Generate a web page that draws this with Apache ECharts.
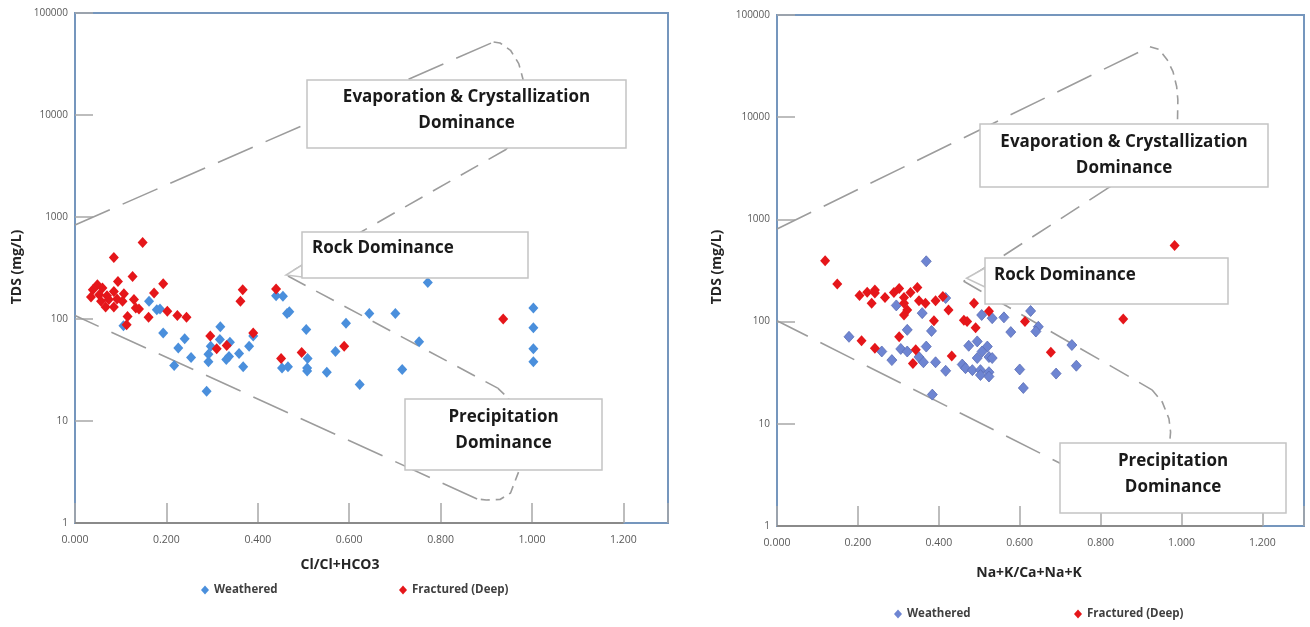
<!DOCTYPE html>
<html><head><meta charset="utf-8">
<script src="https://cdn.jsdelivr.net/npm/echarts@6/dist/echarts.min.js"></script>
<style>html,body{margin:0;padding:0;background:#fff}#c{width:1310px;height:627px}</style>
</head><body><div id="c"></div>
<script>
// ---------- data ----------
const xTickLabels = [0, 0.2, 0.4, 0.6, 0.8, 1.0, 1.2];
const yTickLabels = [1, 10, 100, 1000, 10000, 100000];
const seriesNames = ['Weathered', 'Fractured (Deep)'];

// Left chart: Cl/(Cl+HCO3) vs TDS
const leftWeathered = [
  [0.162,149],[0.179,123],[0.186,125],[0.106,86],[0.193,73],[0.240,64],[0.226,52],[0.254,42],
  [0.217,35],[0.288,19.6],[0.318,84],[0.317,63],[0.297,54],[0.292,45],[0.292,38],[0.339,59],
  [0.337,43],[0.331,40],[0.359,46],[0.368,34],[0.381,54],[0.390,68],[0.440,169],[0.455,167],
  [0.464,113],[0.469,118],[0.453,33],[0.466,34],[0.772,228],[0.644,113],[0.701,113],[0.593,91],
  [0.506,79],[0.753,60],[0.570,48],[0.509,41],[0.508,33],[0.508,31],[0.551,30],[0.716,32],
  [0.623,22.8],[1.003,128],[1.003,82],[1.003,51],[1.003,38]
];
const leftFractured = [
  [0.148,562],[0.085,401],[0.126,261],[0.094,233],[0.193,221],[0.173,180],[0.049,217],[0.039,194],
  [0.060,201],[0.035,164],[0.053,173],[0.070,169],[0.085,186],[0.107,177],[0.057,149],[0.074,155],
  [0.092,157],[0.104,149],[0.067,131],[0.085,131],[0.129,155],[0.133,128],[0.140,125],[0.115,106],
  [0.113,88],[0.161,104],[0.202,119],[0.224,108],[0.244,104],[0.296,68],[0.310,51],[0.332,55],
  [0.367,194],[0.362,149],[0.390,73],[0.440,197],[0.451,41],[0.937,100],[0.496,47],[0.589,54]
];
const leftOuterUpper = [[0,836],[0.916,52000]];
const leftTopCurve = [[0.916,52000],[0.93,50800],[0.953,43100],[0.971,31900],[0.98,22700],[0.985,15000],[0.982,10000],[0.97,7000],[0.955,5300],[0.943,4590]];
const leftInner = [[0.943,4590],[0.461,271],[0.925,21]];
const leftBottomCurve = [[0.925,21],[0.948,16.8],[0.965,10],[0.972,5],[0.971,3.2],[0.953,1.97],[0.93,1.7],[0.9,1.68],[0.88,1.72]];
const leftOuterLower = [[0.88,1.72],[0,108]];

// Right chart: (Na+K)/(Ca+Na+K) vs TDS
const rightWeathered = [
  [0.369,389],[0.295,144],[0.359,121],[0.417,170],[0.322,83],[0.382,81],[0.178,71],[0.259,51],
  [0.306,54],[0.322,51],[0.369,57],[0.284,42],[0.351,45],[0.362,40],[0.392,40],[0.417,33],
  [0.384,19.3],[0.474,58],[0.495,64],[0.506,116],[0.532,108],[0.561,110],[0.520,57],[0.507,51],
  [0.495,44],[0.524,45],[0.532,44],[0.458,38],[0.466,35],[0.483,33.5],[0.503,33.5],[0.503,30],
  [0.524,32],[0.524,29],[0.627,127],[0.646,89],[0.640,80],[0.578,79],[0.729,59],[0.740,37],
  [0.600,34],[0.690,31],[0.609,22.4]
];
const rightFractured = [
  [0.119,395],[0.149,233],[0.204,180],[0.234,151],[0.223,194],[0.242,204],[0.242,190],[0.267,172],
  [0.289,193],[0.302,211],[0.314,172],[0.314,151],[0.322,130],[0.314,116],[0.330,193],[0.347,216],
  [0.351,160],[0.367,151],[0.392,160],[0.410,176],[0.424,130],[0.388,102],[0.462,103],[0.470,100],
  [0.491,87],[0.487,151],[0.524,126],[0.302,71],[0.209,65],[0.242,55],[0.343,53],[0.336,39],
  [0.432,46],[0.983,555],[0.856,106],[0.613,100],[0.677,50]
];
const rightOuterUpper = [[0,805],[0.922,49000]];
const rightTopCurve = [[0.922,49000],[0.945,46000],[0.965,36300],[0.979,27900],[0.988,20000],[0.991,14800],[0.99,8700],[0.985,7000],[0.96,4800],[0.9,3280],[0.818,2020]];
const rightInner = [[0.818,2020],[0.4617,248],[0.927,21.5]];
const rightBottomCurve = [[0.927,21.5],[0.9526,16.3],[0.969,11.2],[0.973,8.3],[0.97,6],[0.96,3],[0.94,2.0],[0.91,1.75],[0.88,1.8]];
const rightOuterLower = [[0.88,1.8],[0,102]];

// ---------- styles ----------
const FONT = '"Open Sans", "Noto Sans", sans-serif';
const RED = '#e5161a';
const BLUE_L = '#4a8fdc';
const BLUE_R = '#6e85d2';
const DASH_COLOR = '#9c9c9c';
const BORDER = '#7596bd';

function xAxisCfg(gi, max) {
  return {
    type: 'value', gridIndex: gi, min: 0, max: max, interval: 0.2,
    axisLine: { show: false },
    axisTick: { show: true, inside: true, length: 20, lineStyle: { color: '#a8a8a8', width: 1.5 } },
    axisLabel: { margin: 12, fontFamily: FONT, fontSize: 10.5, color: '#595959',
      formatter: v => (v > xTickLabels[xTickLabels.length - 1] + 1e-6) ? '' : v.toFixed(3) },
    splitLine: { show: false }
  };
}
function yAxisCfg(gi) {
  return {
    type: 'log', logBase: 10, gridIndex: gi,
    min: yTickLabels[0], max: yTickLabels[yTickLabels.length - 1],
    axisLine: { show: false },
    axisTick: { show: true, inside: true, length: 18, lineStyle: { color: '#a8a8a8', width: 1.5 } },
    axisLabel: { margin: 7, fontFamily: FONT, fontSize: 10, color: '#595959', formatter: v => String(Math.round(v)) },
    splitLine: { show: false }, minorTick: { show: false }
  };
}
function dashSeries(data, gi, dash) {
  return {
    type: 'line', xAxisIndex: gi, yAxisIndex: gi, data: data, showSymbol: false, symbol: 'none',
    silent: true, z: 1, animation: false,
    lineStyle: { color: DASH_COLOR, width: 1.6, type: dash }
  };
}
function scatter(name, data, gi, color, border) {
  return {
    name: name, type: 'scatter', xAxisIndex: gi, yAxisIndex: gi, data: data,
    symbol: 'diamond', symbolSize: [10, 11], z: 3, animation: false,
    itemStyle: { color: color, borderColor: border, borderWidth: border ? 0.8 : 0, opacity: 1 }
  };
}
function legendItem(name, color, left, top) {
  return {
    data: [{ name: name, itemStyle: { color: color } }], left: left, top: top,
    icon: 'diamond', itemWidth: 8, itemHeight: 9, padding: 0, selectedMode: false,
    textStyle: { fontFamily: FONT, fontSize: 11.5, fontWeight: 'bold', color: '#404040', lineHeight: 14 }
  };
}
function box(x, y, w, h) {
  return { type: 'rect', z: 100, shape: { x: x, y: y, width: w, height: h },
    style: { fill: '#fff', stroke: '#c4c4c4', lineWidth: 1.5 } };
}
function txt(s, x, y, align) {
  return { type: 'text', z: 101, x: x, y: y,
    style: { text: s, fill: '#1a1a1a', font: 'bold 17px ' + FONT, align: align || 'center', verticalAlign: 'middle' } };
}
function pointer(pts) {
  return { type: 'polygon', z: 100, shape: { points: pts }, style: { fill: '#fff', stroke: '#c4c4c4', lineWidth: 1.5 } };
}
function title(s, x, y, rot) {
  return { type: 'text', z: 50, x: x, y: y, rotation: rot || 0,
    style: { text: s, fill: '#262626', font: 'bold 14px ' + FONT, align: 'center', verticalAlign: 'middle' } };
}

const xAxisLineMark = gi => ({
  symbol: 'none', silent: true, label: { show: false },
  lineStyle: { color: '#8a8a8a', width: 2, type: 'solid' },
  data: [[{ coord: [xTickLabels[0], yTickLabels[0]] }, { coord: [xTickLabels[xTickLabels.length - 1], yTickLabels[0]] }]]
});

const lowerL = dashSeries(leftOuterLower, 0, [38, 14]);
lowerL.markLine = xAxisLineMark(0);
const lowerR = dashSeries(rightOuterLower, 1, [38, 14]);
lowerR.markLine = xAxisLineMark(1);

const option = {
  animation: false,
  grid: [
    { left: 75, top: 13, width: 593, height: 510, show: true, borderColor: BORDER, borderWidth: 2, backgroundColor: 'transparent' },
    { left: 777, top: 15, width: 527, height: 511, show: true, borderColor: BORDER, borderWidth: 2, backgroundColor: 'transparent' }
  ],
  xAxis: [xAxisCfg(0, 593 / 457), xAxisCfg(1, 527 / 404.5)],
  yAxis: [yAxisCfg(0), yAxisCfg(1)],
  legend: [
    legendItem(seriesNames[0], BLUE_L, 201, 583),
    legendItem(seriesNames[1], RED, 399, 583),
    legendItem(seriesNames[0], BLUE_R, 894, 607),
    legendItem(seriesNames[1], RED, 1074, 607)
  ],
  series: [
    dashSeries(leftOuterUpper, 0, [38, 14]),
    dashSeries(leftTopCurve, 0, [9, 6]),
    dashSeries(leftInner, 0, [20, 12]),
    dashSeries(leftBottomCurve, 0, [9, 6]),
    lowerL,
    dashSeries(rightOuterUpper, 1, [38, 14]),
    dashSeries(rightTopCurve, 1, [9, 6]),
    dashSeries(rightInner, 1, [22, 12]),
    dashSeries(rightBottomCurve, 1, [9, 6]),
    lowerR,
    scatter(seriesNames[0], leftWeathered, 0, BLUE_L),
    scatter(seriesNames[1], leftFractured, 0, RED),
    scatter(seriesNames[0], rightWeathered, 1, BLUE_R, '#5a6db5'),
    scatter(seriesNames[1], rightFractured, 1, RED)
  ],
  graphic: [
    // left chart annotations
    box(307, 80, 319, 68), txt('Evaporation & Crystallization', 466.5, 97), txt('Dominance', 466.5, 123),
    pointer([[302, 265], [286, 275], [302, 277]]),
    box(302, 232, 226, 46), txt('Rock Dominance', 312, 248, 'left'),
    box(405, 399, 197, 71), txt('Precipitation', 503.5, 417), txt('Dominance', 503.5, 443),
    // right chart annotations
    box(980, 124, 288, 63), txt('Evaporation & Crystallization', 1124, 142), txt('Dominance', 1124, 168),
    pointer([[985, 268], [966.5, 278.3], [985, 287]]),
    box(985, 258, 243, 46), txt('Rock Dominance', 994, 275, 'left'),
    box(1060, 443, 226, 70), txt('Precipitation', 1173, 461), txt('Dominance', 1173, 487),
    // axis titles
    title('Cl/Cl+HCO3', 340, 565), title('TDS (mg/L)', 17, 267, Math.PI / 2),
    title('Na+K/Ca+Na+K', 1029, 573), title('TDS (mg/L)', 717, 267, Math.PI / 2)
  ]
};
const chart = echarts.init(document.getElementById('c'), null, { renderer: 'canvas' });
chart.setOption(option);
</script>
</body></html>
